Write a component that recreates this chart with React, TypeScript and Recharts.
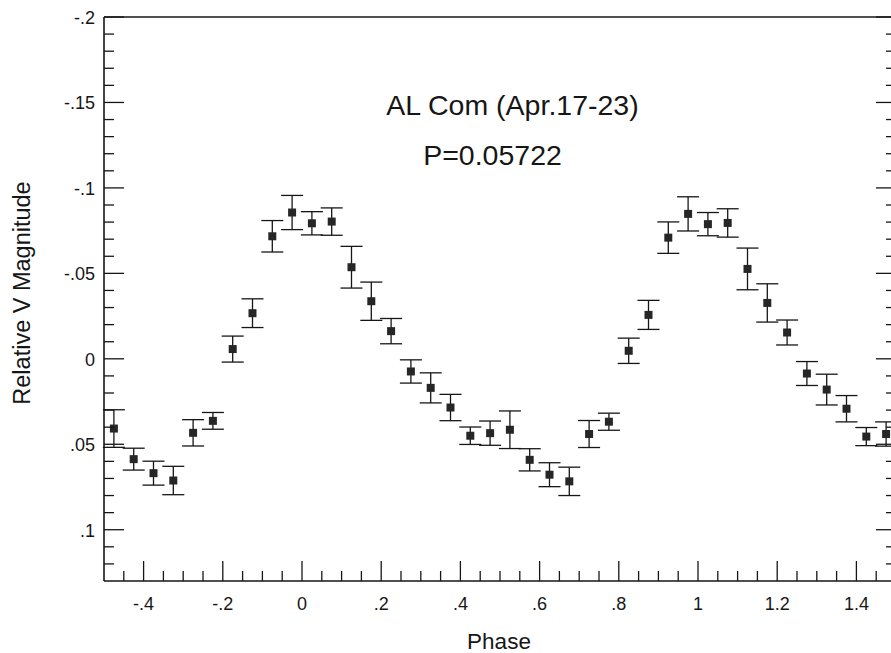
import { ErrorBar, Scatter, ScatterChart, XAxis, YAxis, ZAxis } from "recharts";

// phase-folded light curve, two cycles shown
const phases = [
  -0.475, -0.425, -0.375, -0.325, -0.275, -0.225, -0.175, -0.125, -0.075, -0.025,
  0.025, 0.075, 0.125, 0.175, 0.225, 0.275, 0.325, 0.375, 0.425, 0.475,
  0.525, 0.575, 0.625, 0.675, 0.725, 0.775, 0.825, 0.875, 0.925, 0.975,
  1.025, 1.075, 1.125, 1.175, 1.225, 1.275, 1.325, 1.375, 1.425, 1.475,
];
const magnitudes = [
  0.0408, 0.0587, 0.0669, 0.0712, 0.0433, 0.0363, -0.0057, -0.0267, -0.0717, -0.0856,
  -0.0793, -0.0803, -0.0536, -0.0337, -0.0162, 0.0074, 0.017, 0.0285, 0.045, 0.0435,
  0.0415, 0.0591, 0.0678, 0.0717, 0.044, 0.0368, -0.0047, -0.0257, -0.0709, -0.0848,
  -0.0788, -0.0795, -0.0526, -0.0327, -0.0154, 0.0086, 0.018, 0.0292, 0.0455, 0.044,
];
const errors = [
  0.011, 0.0064, 0.007, 0.0083, 0.0077, 0.0049, 0.0076, 0.0084, 0.0092, 0.01,
  0.0068, 0.008, 0.0122, 0.0112, 0.0074, 0.0068, 0.0088, 0.0077, 0.0051, 0.0071,
  0.011, 0.0065, 0.007, 0.0083, 0.0079, 0.005, 0.0074, 0.0085, 0.0092, 0.01,
  0.0068, 0.0083, 0.0122, 0.0112, 0.0073, 0.007, 0.009, 0.0077, 0.0053, 0.0071,
];

const xMajor = [-0.4, -0.2, 0, 0.2, 0.4, 0.6, 0.8, 1, 1.2, 1.4];
const xLabels = ["-.4", "-.2", "0", ".2", ".4", ".6", ".8", "1", "1.2", "1.4"];
const yMajor = [-0.2, -0.15, -0.1, -0.05, 0, 0.05, 0.1];
const yLabels = ["-.2", "-.15", "-.1", "-.05", "0", ".05", ".1"];

const data = phases.map((p, i) => ({ phase: p, mag: magnitudes[i], err: errors[i] }));

// minor ticks: every .05 in phase, every .01 in magnitude
const xTicks: number[] = [];
for (let i = -9; i <= 29; i++) xTicks.push(Math.round(i * 5) / 100);
const yTicks: number[] = [];
for (let i = -20; i <= 12; i++) yTicks.push(i / 100);

const FONT = "'Liberation Sans', Arial, Helvetica, sans-serif";
const INK = "#161616";

const majorIndex = (list: number[], v: number) => list.findIndex((m) => Math.abs(m - v) < 1e-6);

function BottomTick({ x, y, payload }: any) {
  const idx = majorIndex(xMajor, payload.value);
  const len = idx >= 0 ? 20 : 10;
  return (
    <g>
      <line x1={x} x2={x} y1={y} y2={y - len} stroke={INK} strokeWidth={1.3} />
      {idx >= 0 && (
        <text x={x} y={y + 29} textAnchor="middle" fontSize={18} fontFamily={FONT} fill={INK}>
          {xLabels[idx]}
        </text>
      )}
    </g>
  );
}

function TopTick({ x, y, payload }: any) {
  const len = majorIndex(xMajor, payload.value) >= 0 ? 20 : 10;
  return <line x1={x} x2={x} y1={y} y2={y + len} stroke={INK} strokeWidth={1.3} />;
}

function LeftTick({ x, y, payload }: any) {
  const idx = majorIndex(yMajor, payload.value);
  const len = idx >= 0 ? 20 : 10;
  return (
    <g>
      <line x1={x} x2={x + len} y1={y} y2={y} stroke={INK} strokeWidth={1.3} />
      {idx >= 0 && (
        <text x={x - 9} y={y + 7} textAnchor="end" fontSize={18} fontFamily={FONT} fill={INK}>
          {yLabels[idx]}
        </text>
      )}
    </g>
  );
}

function RightTick({ x, y, payload }: any) {
  const len = majorIndex(yMajor, payload.value) >= 0 ? 20 : 10;
  return <line x1={x} x2={x - len} y1={y} y2={y} stroke={INK} strokeWidth={1.3} />;
}

export default function App() {
  const axisLine = { stroke: INK, strokeWidth: 1.6 };
  return (
    <div style={{ position: "absolute", left: 0, top: 0, width: 891, height: 653, overflow: "hidden", background: "#fff" }}>
      <ScatterChart width={900} height={653} margin={{ top: 16, right: 3, bottom: 71, left: 103 }}>
        <XAxis
          dataKey="phase"
          type="number"
          domain={[-0.5, 1.5]}
          allowDataOverflow
          ticks={xTicks}
          interval={0}
          height={1}
          tickSize={0}
          tickMargin={0}
          tickLine={false}
          axisLine={axisLine}
          tick={<BottomTick />}
        />
        <XAxis
          xAxisId="top"
          orientation="top"
          type="number"
          domain={[-0.5, 1.5]}
          allowDataOverflow
          ticks={xTicks}
          interval={0}
          height={1}
          tickSize={0}
          tickMargin={0}
          tickLine={false}
          axisLine={axisLine}
          tick={<TopTick />}
        />
        <YAxis
          dataKey="mag"
          type="number"
          reversed
          domain={[-0.2, 0.13]}
          allowDataOverflow
          ticks={yTicks}
          interval={0}
          width={1}
          tickSize={0}
          tickMargin={0}
          tickLine={false}
          axisLine={axisLine}
          tick={<LeftTick />}
        />
        <YAxis
          yAxisId="right"
          orientation="right"
          type="number"
          reversed
          domain={[-0.2, 0.13]}
          allowDataOverflow
          ticks={yTicks}
          interval={0}
          width={1}
          tickSize={0}
          tickMargin={0}
          tickLine={false}
          axisLine={axisLine}
          tick={<RightTick />}
        />
        <ZAxis range={[56, 56]} />
        <Scatter data={data} fill="#262626" shape="square" isAnimationActive={false}>
          <ErrorBar dataKey="err" direction="y" width={11} stroke={INK} strokeWidth={1.3} />
        </Scatter>
        <text x={512.5} y={115} textAnchor="middle" fontSize={28.5} fontFamily={FONT} fill={INK}>
          AL Com (Apr.17-23)
        </text>
        <text x={492.5} y={165} textAnchor="middle" fontSize={28.5} fontFamily={FONT} fill={INK}>
          P=0.05722
        </text>
        <text x={499} y={649} textAnchor="middle" fontSize={22.5} fontFamily={FONT} fill={INK}>
          Phase
        </text>
        <text
          x={30}
          y={293}
          transform="rotate(-90 30 293)"
          textAnchor="middle"
          fontSize={23.5}
          fontFamily={FONT}
          fill={INK}
        >
          Relative V Magnitude
        </text>
      </ScatterChart>
    </div>
  );
}
